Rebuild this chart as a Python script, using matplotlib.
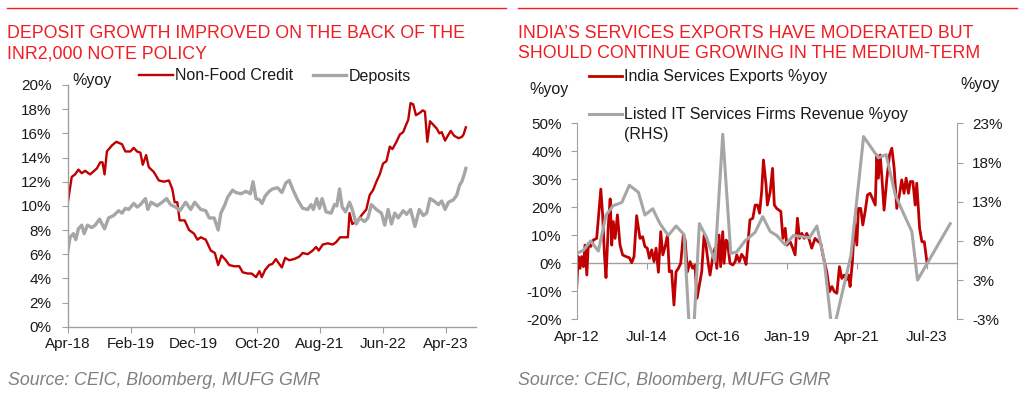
import matplotlib
matplotlib.use("Agg")
import matplotlib.pyplot as plt
from matplotlib.lines import Line2D
from matplotlib.ticker import FuncFormatter
import numpy as np

plt.rcParams['font.family'] = ['Liberation Sans', 'DejaVu Sans']

# ---------------- Left chart data (months since Apr-2018) ----------------
credit_m = [0, 0.64, 1.17, 1.7, 2.23, 2.77, 3.56, 4.63, 5.16, 5.53, 5.85, 6.22, 7.02, 7.71, 8.62, 9.15,
            9.95, 10.48, 11.0, 11.54, 11.91, 12.45, 12.87, 13.67, 14.47, 15.27, 16.06, 16.6, 16.97, 17.39,
            17.77, 18.56, 19.26, 20.05, 20.59, 21.12, 21.91, 22.71, 23.35, 23.88, 24.41, 25.1, 25.64, 26.44,
            27.23, 27.77, 28.56, 29.2, 29.89, 30.43, 30.8, 31.33, 31.97, 32.5, 33.03, 33.56, 33.99, 34.52,
            35.16, 35.96, 36.76, 37.29, 38.09, 38.88, 39.41, 39.84, 40.48, 41.28, 42.07, 42.61, 43.24, 43.94,
            44.47, 44.73, 45.16, 45.9, 46.6, 47.39, 47.93, 48.46, 48.99, 49.52, 50.05, 50.59, 51.12, 51.54,
            52.18, 52.71, 53.24, 53.78, 54.04, 54.41, 54.84, 55.27, 55.9, 56.33, 56.7, 57.07, 57.5, 58.03,
            58.56, 58.99, 59.36, 59.89, 60.43, 60.8, 61.33, 62.02, 62.55, 62.82, 63.19]
credit_v = [10.2, 12.4, 12.6, 13.0, 12.7, 12.9, 12.6, 13.1, 13.6, 13.6, 12.6, 14.5, 15.0, 15.3, 15.1, 14.5,
            14.5, 14.8, 14.5, 14.4, 13.4, 14.2, 13.2, 12.8, 12.1, 12.0, 12.1, 11.4, 10.3, 10.3,
            8.8, 8.8, 8.0, 7.7, 7.2, 7.4, 7.2, 6.3, 6.1, 5.1, 5.9, 5.5, 5.1, 5.0,
            5.0, 4.5, 4.4, 4.4, 4.1, 4.6, 4.1, 4.7, 5.1, 5.2, 5.6, 5.2, 4.9, 5.7,
            5.5, 5.6, 5.8, 6.1, 6.0, 6.3, 6.6, 6.3, 6.8, 6.9, 6.8, 7.0, 7.4, 7.4,
            7.4, 9.4, 8.5, 8.7, 9.2, 9.7, 10.9, 11.3, 12.0, 12.6, 13.5, 13.7, 14.9, 14.7,
            15.3, 15.9, 16.1, 16.8, 17.1, 18.5, 18.4, 17.5, 17.7, 17.9, 17.8, 15.3, 17.0, 16.7,
            16.4, 16.0, 16.1, 15.4, 15.9, 16.2, 15.8, 15.6, 15.7, 15.9, 16.5]

deposit_m = [0, 0.37, 0.9, 1.28, 1.7, 2.23, 2.61, 3.14, 3.83, 4.36, 5.05, 5.85, 6.49, 7.29, 8.09, 8.62,
             9.15, 9.68, 10.48, 11.01, 11.54, 12.34, 12.71, 13.24, 14.2, 15.0, 15.69, 16.33, 17.13, 17.82,
             18.72, 19.52, 20.16, 21.12, 21.91, 22.45, 23.24, 23.88, 24.31, 24.95, 25.37, 26.17, 26.7, 27.5,
             28.3, 28.99, 29.41, 29.89, 30.43, 30.85, 31.33,
             31.97, 32.5, 33.3, 33.99, 34.63, 35.16, 35.69, 36.49, 37.29, 38.09, 38.62, 38.99, 39.52, 39.95,
             40.37, 41.01, 41.81, 42.34, 42.71, 43.14, 43.56, 44.1, 44.73, 45.16, 45.8, 46.33, 47.13, 47.66,
             48.19, 48.99, 49.79, 50.32, 50.85, 51.38, 51.91, 52.45, 53.24, 53.78, 54.41, 55.11, 55.8, 56.44,
             56.97, 57.5, 58.14, 58.83, 59.36, 59.89, 60.43, 61.22, 61.76, 62.18, 62.55, 62.93, 63.19]
deposit_v = [6.2, 7.4, 7.7, 7.2, 8.1, 8.4, 7.7, 8.4, 8.2, 8.4, 8.9, 8.1, 9.0, 9.2, 9.6, 9.4,
             9.8, 9.7, 10.2, 9.9, 10.1, 10.6, 9.7, 10.3, 10.0, 10.3, 10.6, 10.1, 9.9, 9.6,
             10.3, 9.7, 10.3, 9.7, 9.6, 9.0, 9.0, 8.0, 9.4, 10.1, 10.7, 11.3, 11.1, 11.0,
             11.2, 11.0, 12.0, 10.6, 10.5, 10.2, 10.8,
             11.2, 11.4, 11.5, 11.1, 11.9, 12.1, 11.4, 10.5, 9.8, 9.7, 10.1, 9.7, 10.6, 9.8,
             10.6, 9.5, 9.4, 10.1, 10.0, 11.4, 9.9, 9.5, 10.3, 9.7, 8.5, 9.0, 8.7, 9.0,
             10.1, 9.7, 9.4, 8.4, 9.7, 8.5, 9.4, 9.0, 9.6, 9.3, 9.7, 8.3, 9.7, 9.2,
             9.4, 10.6, 10.4, 10.1, 10.4, 9.7, 10.3, 10.5, 10.9, 11.7, 12.0, 12.6, 13.1]

left_xtick_labels = ['Apr-18', 'Feb-19', 'Dec-19', 'Oct-20', 'Aug-21', 'Jun-22', 'Apr-23']

# ---------------- Right chart data (months since Apr-2012) ----------------
exports_m = [0, 0.6, 1.3, 1.9, 2.6, 3.2, 3.9, 4.5, 5.4, 6.4,
             7.7, 9.3, 10.0, 10.7, 11.3, 12.2, 12.9, 13.5, 14.1, 14.8,
             15.7, 16.7, 17.7, 19.0, 20.3, 21.2, 22.1, 23.1, 23.8, 24.4,
             25.4, 26.3, 27.2, 28.0, 28.9, 29.8, 30.6, 31.5, 32.4, 33.2,
             34.1, 35.0, 35.7, 36.6, 37.5, 38.3, 39.2, 40.1, 41.1, 41.8,
             42.7, 43.7, 44.7, 45.6, 46.4, 47.3, 48.2, 49.1, 49.9, 50.8,
             51.4, 52.4, 53.3, 54.0, 54.9, 55.5, 56.3, 56.8, 57.6, 58.1,
             59.1, 60.2, 61.1, 61.7, 62.7, 63.6, 64.5, 65.3, 66.2, 66.8,
             67.9, 68.8, 69.7, 70.5, 71.3, 72.0, 73.0, 73.5, 74.6, 75.5,
             76.2, 77.1, 78.7, 79.5, 80.4, 81.0, 82.3, 83.3, 84.2, 85.1,
             85.9, 86.8, 87.7, 88.7, 89.7, 90.6, 91.9, 93.2, 94.1, 94.9,
             95.8, 96.4, 97.5, 98.4, 99.3, 100.3, 101.3, 102.2, 103.1, 103.9,
             104.8, 105.4, 106.3, 107.1, 108.0, 108.6, 109.5, 110.3, 111.2, 112.1,
             113.1, 114.0, 115.1, 115.7, 116.3, 117.0, 117.6, 118.5, 119.6, 120.6,
             121.5, 122.4, 123.4, 124.4, 125.3, 126.2, 127.0, 127.9, 128.6, 129.6,
             130.5, 131.1, 132.2, 133.1, 134.0, 135.0]
exports_v = [-8.7, 2.4, -1.8, 2.4, -1.2, 6.5, -4.2, 7.1, 6.0, 8.3,
             8.9, 26.5, 17.3, 3.0, -5.1, 13.7, 23.0, 6.5, 14.9, 8.9,
             17.3, 6.5, 3.0, 2.4, 2.0, 0.2, 2.4, 17.0, 12.5, 8.9,
             9.5, 6.0, 5.4, 1.8, 4.8, 0.6, 5.4, -3.2, 11.3, 3.0,
             6.0, 10.1, -3.0, -2.7, -14.9, -3.0, -1.8, 0.0, 10.1, 8.3,
             -3.0, 0.6, -1.8, -0.6, -12.5, -7.7, -3.0, 10.1, 6.0, -0.6,
             -4.2, 1.8, 5.4, -1.8, 10.1, -1.2, 11.3, 0.0, 8.3, 7.7,
             0.0, -0.6, 0.6, 3.0, 0.6, 3.2, 2.0, -0.4, 8.9, 15.5,
             16.1, 20.8, 20.8, 17.9, 25.6, 36.9, 28.0, 20.8, 25.6, 33.9,
             20.8, 19.6, 18.5, 8.9, 12.5, 6.5, 7.7, 5.4, 3.0, 16.1,
             8.9, 10.7, 8.9, 10.7, 8.3, 5.4, 8.9, 7.7, 7.1, 3.0,
             -0.6, -3.0, -10.1, -8.3, -10.1, -10.7, -1.2, -5.4, -4.2, -6.0,
             -4.2, -8.3, 0.6, 14.9, 6.5, 19.6, 19.6, 13.7, 18.5, 24.4,
             25.0, 23.2, 20.8, 38.7, 30.4, 38.7, 31.5, 19.0, 30.4, 38.7,
             41.1, 33.9, 19.6, 24.4, 29.8, 25.0, 30.4, 25.0, 29.2, 29.2,
             20.8, 28.6, 12.5, 7.7, 7.7, 0.6]

it_rev_m = [0, 2.57, 5.4, 8.35, 11.3, 14.1, 17.4, 20.3, 23.8, 26.3,
            29.3, 32.1, 35.3, 38.3, 41.4, 44.3, 47.3, 50.1, 53.3, 56.3,
            59.4, 61.7, 64.9, 68.8, 71.7, 74.6, 77.1, 80.4, 83.6, 89.7,
            92.6, 95.4, 98.6, 105.7, 110.6, 116.3, 119.3, 122.8, 126.0, 129.2,
            131.4, 144.0]
it_rev_v = [5.9, 6.3, 7.5, 6.2, 10.8, 12.0, 12.4, 14.6, 13.7, 10.8,
            11.6, 9.7, 8.2, 9.4, 8.3, -9.0, 9.7, 7.9, 4.9, 21.1,
            5.9, 6.1, 7.5, 8.6, 10.6, 8.7, 8.2, 7.0, 8.2, 7.9,
            9.4, 5.1, -4.5, 5.6, 20.8, 18.1, 18.5, 13.4, 11.0, 8.7,
            2.5, 9.7]

right_xtick_labels = ['Apr-12', 'Jul-14', 'Oct-16', 'Jan-19', 'Apr-21', 'Jul-23']
rhs_tick_labels = ['-3%', '3%', '8%', '13%', '18%', '23%']

# ---------------- Styles ----------------
W, H = 1022, 403
RED = '#C00000'
GREY = '#A6A6A6'
AXC = '#A0A0A0'
TITLE_RED = '#F01E23'
TXT = '#1A1A1A'
TICK_FS = 11
LEG_FS = 11.5
TITLE_FS = 12.8


def fx(px):
    return px / W


def fy(py):
    return 1 - py / H


fig = plt.figure(figsize=(W / 100, H / 100), dpi=100)

# ---------------- Left chart ----------------
ax1 = fig.add_axes([fx(67.7), fy(326.7), fx(476) - fx(67.7), fy(85) - fy(326.7)])
l_credit, = ax1.plot(credit_m, credit_v, color=RED, lw=1.7, zorder=2, label='Non-Food Credit')
l_dep, = ax1.plot(deposit_m, deposit_v, color=GREY, lw=2.4, zorder=3, label='Deposits')
ax1.set_xlim(0, 64.8)
ax1.set_ylim(0, 20)
ax1.set_yticks(np.arange(0, 21, 2))
ax1.yaxis.set_major_formatter(FuncFormatter(lambda v, p: f"{v:.0f}%"))
ax1.set_xticks(np.arange(len(left_xtick_labels)) * 10)
ax1.set_xticklabels(left_xtick_labels)
for s in ['top', 'right']:
    ax1.spines[s].set_visible(False)
for s in ['left', 'bottom']:
    ax1.spines[s].set_color(AXC)
    ax1.spines[s].set_linewidth(1.0)
ax1.tick_params(axis='y', direction='out', length=4, color=AXC, labelsize=TICK_FS, labelcolor=TXT, pad=7.5)
ax1.tick_params(axis='x', direction='out', length=4, color=AXC, labelsize=TICK_FS, labelcolor=TXT, pad=3.5)

fig.legend(handles=[l_credit, l_dep], loc='center left', bbox_to_anchor=(fx(139.3), fy(76)),
           ncol=2, frameon=False, fontsize=LEG_FS, handlelength=2.1, handletextpad=0.15,
           columnspacing=1.2, borderpad=0, borderaxespad=0, labelcolor=TXT)
fig.text(fx(72.7), fy(80), '%yoy', fontsize=LEG_FS, color=TXT, ha='left', va='center')

# ---------------- Right chart ----------------
ax2 = fig.add_axes([fx(576.7), fy(319.3), fx(956.7) - fx(576.7), fy(123.3) - fy(319.3)])
ax2r = ax2.twinx()
l_exp, = ax2.plot(exports_m, exports_v, color=RED, lw=2.0, label='India Services Exports %yoy')
l_it, = ax2r.plot(it_rev_m, it_rev_v, color=GREY, lw=2.2, label='Listed IT Services Firms Revenue %yoy')
ax2.set_xlim(0, 146.5)
ax2.set_ylim(-20, 50)
ax2r.set_ylim(-2.5, 22.5)
ax2.set_yticks(np.arange(-20, 51, 10))
ax2.yaxis.set_major_formatter(FuncFormatter(lambda v, p: f"{v:.0f}%"))
ax2r.set_yticks(np.arange(len(rhs_tick_labels)) * 5 - 2.5)
ax2r.set_yticklabels(rhs_tick_labels)
xt = np.arange(len(right_xtick_labels)) * 27
ax2.set_xticks(xt)
ax2.set_xticklabels(right_xtick_labels)
for a in (ax2, ax2r):
    a.spines['top'].set_visible(False)
    a.spines['bottom'].set_visible(False)
ax2.spines['right'].set_visible(False)
ax2r.spines['left'].set_visible(False)
ax2.spines['left'].set_color(AXC)
ax2r.spines['right'].set_color(AXC)
ax2.tick_params(axis='y', direction='out', length=4, color=AXC, labelsize=TICK_FS, labelcolor=TXT, pad=6.8)
ax2r.tick_params(axis='y', direction='out', length=4, color=AXC, labelsize=TICK_FS, labelcolor=TXT, pad=7.2)
ax2.tick_params(axis='x', length=0, labelsize=TICK_FS, labelcolor=TXT, pad=7.7)

# zero line with category ticks
zero_frac = (0 - (-20)) / (50 - (-20))
sec = ax2.secondary_xaxis(zero_frac)
sec.set_xticks(xt)
sec.tick_params(axis='x', direction='out', length=4, color=AXC, labelbottom=False)
sec.spines['bottom'].set_color(AXC)
sec.spines['bottom'].set_linewidth(1.0)

fig.legend(handles=[l_exp], loc='center left', bbox_to_anchor=(fx(589), fy(76.7)),
           frameon=False, fontsize=LEG_FS, handlelength=2.05, handletextpad=0.15,
           borderpad=0, borderaxespad=0, labelcolor=TXT)
fig.legend(handles=[l_it], loc='center left', bbox_to_anchor=(fx(589), fy(115)),
           frameon=False, fontsize=LEG_FS, handlelength=2.05, handletextpad=0.15,
           borderpad=0, borderaxespad=0, labelcolor=TXT)
fig.text(fx(624), fy(135), '(RHS)', fontsize=LEG_FS, color=TXT, ha='left', va='center')
fig.text(fx(529.3), fy(89.3), '%yoy', fontsize=LEG_FS, color=TXT, ha='left', va='center')
fig.text(fx(960.7), fy(85), '%yoy', fontsize=LEG_FS, color=TXT, ha='left', va='center')

# ---------------- Titles, rules, sources ----------------
for x0, x1 in [(7, 506), (518, 1017)]:
    fig.add_artist(Line2D([fx(x0), fx(x1)], [fy(8.3), fy(8.3)], transform=fig.transFigure,
                          color=TITLE_RED, lw=1.0))

fig.text(fx(7.3), fy(37.7), 'DEPOSIT GROWTH IMPROVED ON THE BACK OF THE', fontsize=TITLE_FS,
         color=TITLE_RED, ha='left', va='baseline')
fig.text(fx(7.3), fy(58.3), 'INR2,000 NOTE POLICY', fontsize=TITLE_FS,
         color=TITLE_RED, ha='left', va='baseline')
fig.text(fx(518.3), fy(37.7), 'INDIA\u2019S SERVICES EXPORTS HAVE MODERATED BUT', fontsize=TITLE_FS,
         color=TITLE_RED, ha='left', va='baseline')
fig.text(fx(518.3), fy(58.3), 'SHOULD CONTINUE GROWING IN THE MEDIUM-TERM', fontsize=TITLE_FS,
         color=TITLE_RED, ha='left', va='baseline')

for x0 in (8.3, 518.3):
    fig.text(fx(x0), fy(385), 'Source: CEIC, Bloomberg, MUFG GMR', fontsize=TITLE_FS,
             color='#808080', style='italic', ha='left', va='baseline')

fig.savefig('out.png', dpi=100)
